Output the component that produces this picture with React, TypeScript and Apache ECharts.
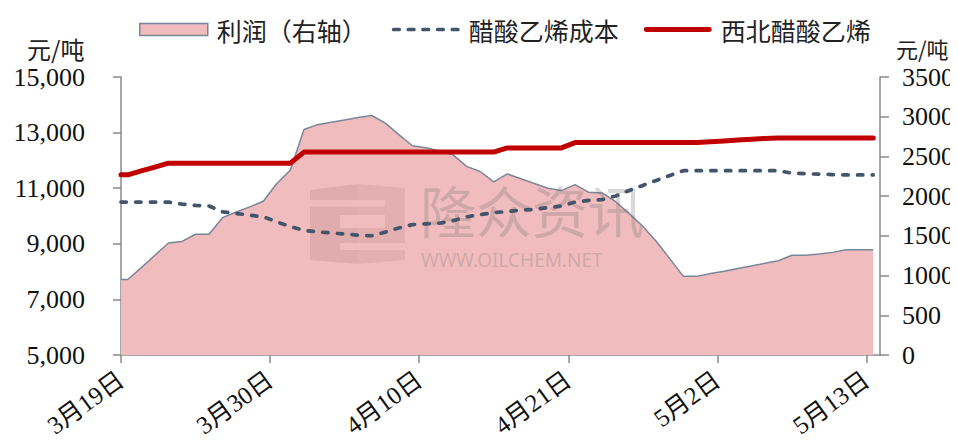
import React, { useEffect, useRef } from 'react';
import * as echarts from 'echarts';

const dateLabels = ['3月19日', '3月30日', '4月10日', '4月21日', '5月2日', '5月13日'];
const labelDays = [0, 11, 22, 33, 44, 55];
const dayCount = 56;

const profitName = '利润（右轴）';
const costName = '醋酸乙烯成本';
const priceName = '西北醋酸乙烯';

// 利润 (right axis, 元/吨), daily from 3/19 to 5/13
const profit = [
  950, 1100, 1255, 1410, 1430, 1520, 1520, 1730, 1800, 1865,
  1935, 2160, 2330, 2840, 2900, 2930, 2960, 2990, 3015, 2920,
  2775, 2635, 2610, 2570, 2520, 2375, 2310, 2180, 2280, 2220,
  2160, 2100, 2070, 2145, 2050, 2040, 1930, 1780, 1620, 1430,
  1210, 990, 990, 1025, 1055, 1090, 1120, 1155, 1187, 1255,
  1255, 1273, 1292, 1326, 1326, 1326,
];

// 醋酸乙烯成本 (left axis)
const cost = [
  10500, 10500, 10500, 10500, 10430, 10380, 10360, 10150, 10090, 10030,
  9970, 9790, 9620, 9480, 9430, 9390, 9350, 9310, 9290, 9420,
  9570, 9690, 9720, 9740, 9830, 9970, 10050, 10120, 10160, 10210,
  10240, 10300, 10360, 10500, 10560, 10590, 10720, 10920, 11100, 11280,
  11460, 11630, 11630, 11630, 11630, 11630, 11630, 11630, 11630, 11540,
  11520, 11505, 11490, 11477, 11477, 11477,
];

// 西北醋酸乙烯 (left axis)
const price = [
  11480, 11620, 11760, 11900, 11900, 11900, 11900, 11900, 11900, 11900,
  11900, 11900, 11900, 12300, 12300, 12300, 12300, 12300, 12300, 12300,
  12300, 12300, 12300, 12300, 12300, 12300, 12300, 12300, 12450, 12450,
  12450, 12450, 12450, 12640, 12640, 12640, 12640, 12640, 12640, 12640,
  12640, 12640, 12640, 12670, 12700, 12730, 12760, 12790, 12810, 12810,
  12810, 12810, 12810, 12810, 12810, 12810,
];

const leftAxis = { min: 5000, max: 15000, interval: 2000 };
const rightAxis = { min: 0, max: 3500, interval: 500 };

const NUM_FONT = "'Liberation Serif', 'Noto Sans CJK SC', serif";
const CJK_FONT = "'Noto Sans CJK SC', sans-serif";
const AXIS_COLOR = '#8a8a8a';
const PINK = '#F0BCBD';
const SLATE = '#44546A';
const RED = '#C00000';

// legend icons: a row of rounded dashes, and a solid bar
const dashIcon = (() => {
  const parts: string[] = [];
  for (let k = 0; k < 5; k++) {
    const x0 = k * 14.2;
    parts.push(`M${x0 + 1.8},0 H${x0 + 7.2} A1.8,1.8 0 0 1 ${x0 + 7.2},3.6 H${x0 + 1.8} A1.8,1.8 0 0 1 ${x0 + 1.8},0 Z`);
  }
  return 'path://' + parts.join(' ');
})();
const barIcon = 'path://M2.5,0 H67.5 A2.5,2.5 0 0 1 67.5,5 H2.5 A2.5,2.5 0 0 1 2.5,0 Z';

// each day's value sits in the middle of its day slot; the curve starts flat at the axis
const toPoints = (arr: number[]) => [[0, arr[0]], ...arr.map((v, i) => [i + 0.5, v])];

export default function App() {
  const ref = useRef<HTMLDivElement>(null);

  useEffect(() => {
    if (!ref.current) return;
    const chart = echarts.init(ref.current, undefined, { renderer: 'svg' });
    const wmColor = 'rgba(110,110,110,0.26)';
    chart.setOption({
      animation: false,
      backgroundColor: '#ffffff',
      textStyle: { fontFamily: NUM_FONT },
      legend: {
        left: 139,
        top: 17,
        padding: 0,
        itemWidth: 68,
        itemHeight: 12,
        itemGap: 25,
        textStyle: { fontSize: 25, color: '#222', fontFamily: CJK_FONT, padding: [0, 0, 0, 4] },
        data: [
          { name: profitName, icon: 'rect', itemStyle: { color: PINK, borderColor: '#7A869A', borderWidth: 1.5 } },
          { name: costName, icon: dashIcon, itemStyle: { color: SLATE } },
          { name: priceName, icon: barIcon, itemStyle: { color: RED } },
        ],
      },
      grid: { left: 121, right: 78, top: 77, bottom: 87, containLabel: false, outerBoundsMode: 'none' },
      xAxis: {
        type: 'value',
        min: 0,
        max: dayCount,
        interval: 11,
        axisLine: { lineStyle: { color: AXIS_COLOR, width: 1.5 } },
        axisTick: { show: true, customValues: labelDays, length: 8, lineStyle: { color: AXIS_COLOR, width: 1.5 } },
        axisLabel: {
          customValues: labelDays,
          rotate: 36,
          fontSize: 25,
          margin: 22,
          color: '#111',
          fontFamily: NUM_FONT,
          formatter: (v: number) => {
            const k = labelDays.indexOf(Math.round(v));
            return k >= 0 ? dateLabels[k] : '';
          },
        },
        splitLine: { show: false },
      },
      yAxis: [
        {
          type: 'value',
          position: 'left',
          ...leftAxis,
          axisLine: { show: true, lineStyle: { color: AXIS_COLOR, width: 1.5 } },
          axisTick: { show: true, length: 8, lineStyle: { color: AXIS_COLOR, width: 1.5 } },
          axisLabel: {
            fontSize: 26,
            margin: 36,
            color: '#111',
            fontFamily: NUM_FONT,
            formatter: (v: number) => v.toLocaleString('en-US'),
          },
          splitLine: { show: false },
        },
        {
          type: 'value',
          position: 'right',
          ...rightAxis,
          axisLine: { show: true, lineStyle: { color: AXIS_COLOR, width: 1.5 } },
          axisTick: { show: true, length: 9, lineStyle: { color: AXIS_COLOR, width: 1.5 } },
          axisLabel: {
            fontSize: 26,
            margin: 22,
            color: '#111',
            fontFamily: NUM_FONT,
            formatter: (v: number) => String(v),
          },
          splitLine: { show: false },
        },
      ],
      series: [
        {
          name: profitName,
          type: 'line',
          yAxisIndex: 1,
          data: toPoints(profit),
          symbol: 'none',
          z: 2,
          itemStyle: { color: PINK },
          lineStyle: { color: '#7A869A', width: 1.5 },
          areaStyle: { color: PINK, opacity: 1 },
        },
        {
          name: costName,
          type: 'line',
          yAxisIndex: 0,
          data: toPoints(cost),
          symbol: 'none',
          z: 5,
          itemStyle: { color: SLATE },
          lineStyle: { color: SLATE, width: 3.7, type: [5.3, 9.4], cap: 'round' },
        },
        {
          name: priceName,
          type: 'line',
          yAxisIndex: 0,
          data: toPoints(price),
          symbol: 'none',
          z: 6,
          itemStyle: { color: RED },
          lineStyle: { color: RED, width: 5, cap: 'round', join: 'round' },
        },
      ],
      graphic: [
        { type: 'text', left: 27, top: 36, z: 10, style: { text: '元/吨', fontSize: 24, fontFamily: CJK_FONT, fill: '#222' } },
        { type: 'text', left: 896, top: 37, z: 10, style: { text: '元/吨', fontSize: 22, fontFamily: CJK_FONT, fill: '#222' } },
        { type: 'polygon', z: 3, shape: { points: [[310, 190], [358, 184], [358, 264], [310, 260]] }, style: { fill: 'rgba(150,95,95,0.17)' } },
        { type: 'polygon', z: 3, shape: { points: [[358, 184], [405, 188], [405, 260], [358, 264]] }, style: { fill: 'rgba(150,95,95,0.13)' } },
        { type: 'rect', z: 3, shape: { x: 310, y: 200, width: 75, height: 6.5 }, style: { fill: PINK } },
        { type: 'rect', z: 3, shape: { x: 340, y: 215, width: 45, height: 13 }, style: { fill: PINK } },
        { type: 'rect', z: 3, shape: { x: 340, y: 243, width: 65, height: 7 }, style: { fill: PINK } },
        { type: 'text', left: 420, top: 180, z: 3, silent: true, style: { text: '隆众资讯', fontSize: 56, fontFamily: CJK_FONT, fill: wmColor } },
        { type: 'text', left: 421, top: 250, z: 3, silent: true, style: { text: 'WWW.OILCHEM.NET', fontSize: 19, fontFamily: "'Noto Sans', sans-serif", fill: wmColor } },
      ],
    });
    return () => chart.dispose();
  }, []);

  return <div ref={ref} style={{ width: 958, height: 442, margin: -8 }} />;
}
